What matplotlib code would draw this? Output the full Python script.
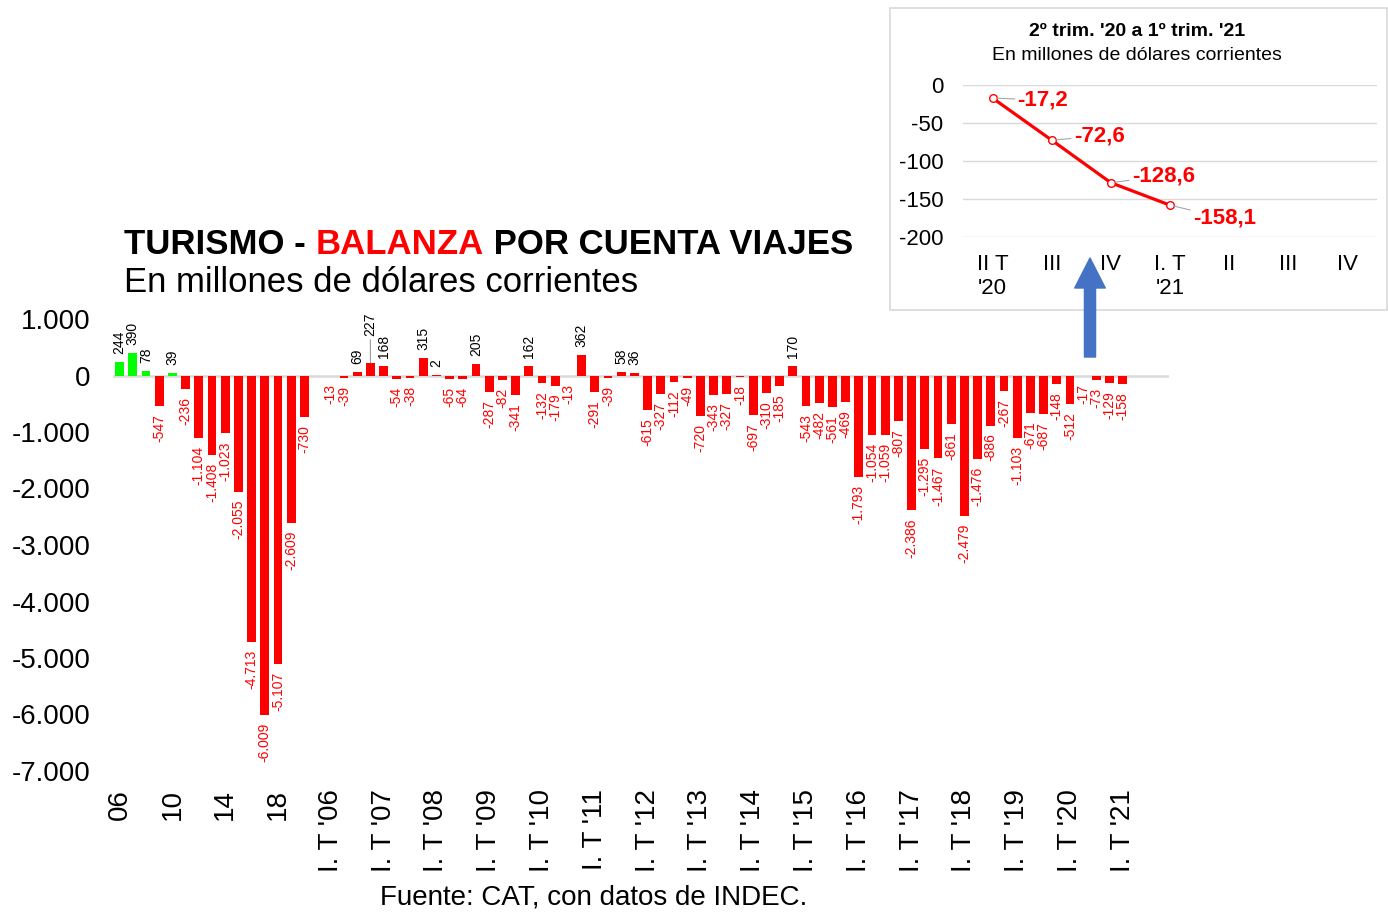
import numpy as np
import matplotlib.pyplot as plt
from matplotlib.patches import Rectangle, FancyArrowPatch

plt.rcParams['font.family'] = ['Liberation Sans', 'DejaVu Sans']

# annual balance 2006-2020
years = ['06', '07', '08', '09', '10', '11', '12', '13', '14', '15', '16', '17', '18', '19', '20']
annual = [244, 390, 78, -547, 39, -236, -1104, -1408, -1023, -2055, -4713, -6009, -5107, -2609, -730]

# quarterly balance I T'06 - I T'21
quarter_years = ['06', '07', '08', '09', '10', '11', '12', '13', '14', '15', '16', '17', '18', '19', '20', '21']
quarterly = [-13, -39, 69, 227,
             168, -54, -38, 315,
             2, -65, -64, 205,
             -287, -82, -341, 162,
             -132, -179, -13, 362,
             -291, -39, 58, 36,
             -615, -327, -112, -49,
             -720, -343, -327, -18,
             -697, -310, -185, 170,
             -543, -482, -561, -469,
             -1793, -1054, -1059, -807,
             -2386, -1295, -1467, -861,
             -2479, -1476, -886, -267,
             -1103, -671, -687, -148,
             -512, -17, -73, -129,
             -158]

# inset
inset_labels = ["II T\n'20", "III", "IV", "I. T\n'21", "II", "III", "IV"]
inset_vals = [-17.2, -72.6, -128.6, -158.1]

RED = '#FF0000'
GREEN = '#00FF00'

def fmt(v):
    return f"{v:,}".replace(',', '.')

fig = plt.figure(figsize=(13.88, 9.15), dpi=100)
W, H = 1388, 915

def fx(px):
    return px / W

def fy(py):
    return 1 - py / H

ax = fig.add_axes([fx(113), fy(771), fx(1169) - fx(113), fy(319) - fy(771)])

x_annual = np.arange(len(annual))
x_q = np.arange(len(quarterly)) + len(annual) + 1
bw = 0.68

ax.bar(x_annual, annual, width=bw,
       color=[GREEN if v > 0 else RED for v in annual], zorder=2)
ax.bar(x_q, quarterly, width=bw, color=RED, zorder=2)
ax.axhline(0, color='#d9d9d9', lw=1.8, zorder=1)

xs = list(x_annual) + list(x_q)
vals = annual + quarterly
for x, v in zip(xs, vals):
    if v >= 0:
        if v == 227:
            ax.annotate(fmt(v), (x, v), xytext=(0, 27), textcoords='offset pixels',
                        rotation=90, ha='center', va='bottom', fontsize=10, color='black',
                        arrowprops=dict(arrowstyle='-', color='#999999', lw=0.8,
                                        shrinkA=1, shrinkB=0))
        else:
            ax.annotate(fmt(v), (x, v), xytext=(0, 8), textcoords='offset pixels',
                        rotation=90, ha='center', va='bottom', fontsize=10, color='black')
    else:
        ax.annotate(fmt(v), (x, v), xytext=(0, -8), textcoords='offset pixels',
                    rotation=90, ha='center', va='top', fontsize=10, color=RED)

ax.set_xlim(-0.5, 79.5)
ax.set_ylim(-7000, 1000)
yt = np.arange(-7000, 1001, 1000)
ax.set_yticks(yt)
ax.set_yticklabels([fmt(int(t)) for t in yt], fontsize=20)

tick_pos = [0, 4, 8, 12] + [x_q[0] + 4 * i for i in range(len(quarter_years))]
tick_lab = [years[i] for i in [0, 4, 8, 12]] + ["I. T '" + y for y in quarter_years]
ax.set_xticks(tick_pos)
ax.set_xticklabels(tick_lab, rotation=90, fontsize=20, va='top', ha='center')
ax.tick_params(length=0, axis='y', pad=16)
ax.tick_params(length=0, axis='x', pad=13)
for s in ax.spines.values():
    s.set_visible(False)

# titles
t1 = fig.text(fx(124), fy(254), 'TURISMO - ', fontsize=25, fontweight='bold', va='baseline', ha='left')
fig.canvas.draw()
r = fig.canvas.get_renderer()
bb = t1.get_window_extent(r)
t2 = fig.text(bb.x1 / W, fy(254), 'BALANZA', fontsize=25, fontweight='bold', va='baseline',
              ha='left', color=RED)
bb2 = t2.get_window_extent(r)
fig.text(bb2.x1 / W, fy(254), ' POR CUENTA VIAJES', fontsize=25, fontweight='bold',
         va='baseline', ha='left')
fig.text(fx(124), fy(292), 'En millones de dólares corrientes', fontsize=25, va='baseline', ha='left')

fig.text(fx(594), fy(898), 'Fuente: CAT, con datos de INDEC.', fontsize=20, ha='center', va='center')

# inset box
fig.add_artist(Rectangle((fx(890), fy(310)), fx(1388) - fx(890) - 0.001, fy(8) - fy(310),
                         transform=fig.transFigure, facecolor='white', edgecolor='#d9d9d9',
                         lw=1.2, zorder=0))
fig.text(fx(1137), fy(32), "2º trim. '20 a 1º trim. '21", fontsize=14, fontweight='bold',
         ha='center', va='center')
fig.text(fx(1137), fy(55), 'En millones de dólares corrientes', fontsize=14,
         ha='center', va='center')

iax = fig.add_axes([fx(963), fy(237), fx(1377) - fx(963), fy(85) - fy(237)])
iax.set_facecolor('none')
ix = np.arange(len(inset_vals))
iax.plot(ix, inset_vals, color=RED, lw=2.3, marker='o', markersize=5.5,
         markerfacecolor='white', markeredgecolor=RED, markeredgewidth=1, zorder=3, clip_on=False)
offsets = [(25, -2), (22, 4), (21, 7), (23, -13)]
for x, v, off in zip(ix, inset_vals, offsets):
    iax.annotate(f"{v:.1f}".replace('.', ','), (x, v), xytext=off, textcoords='offset pixels',
                 fontsize=16, fontweight='bold', color=RED, ha='left', va='center',
                 arrowprops=dict(arrowstyle='-', color='#a6a6a6', lw=0.8, shrinkA=0, shrinkB=3))
iax.set_xlim(-0.5, 6.5)
iax.set_ylim(-200, 0)
iax.set_yticks([0, -50, -100, -150, -200])
iax.set_yticklabels(['0', '-50', '-100', '-150', '-200'], fontsize=16)
iax.set_xticks(np.arange(len(inset_labels)))
iax.set_xticklabels(inset_labels, fontsize=16, linespacing=1.2)
iax.grid(axis='y', color='#d9d9d9', lw=1)
iax.tick_params(length=0, axis='y', pad=14)
iax.tick_params(length=0, axis='x', pad=12)
for s in iax.spines.values():
    s.set_visible(False)

# blue arrow
fig.add_artist(FancyArrowPatch((fx(1090), fy(357)), (fx(1090), fy(258)), transform=fig.transFigure,
                               arrowstyle='simple,head_width=1.1,head_length=1.08,tail_width=0.4',
                               mutation_scale=20, color='#4472C4', shrinkA=0, shrinkB=0, zorder=5))

fig.savefig('out.png', dpi=100)
